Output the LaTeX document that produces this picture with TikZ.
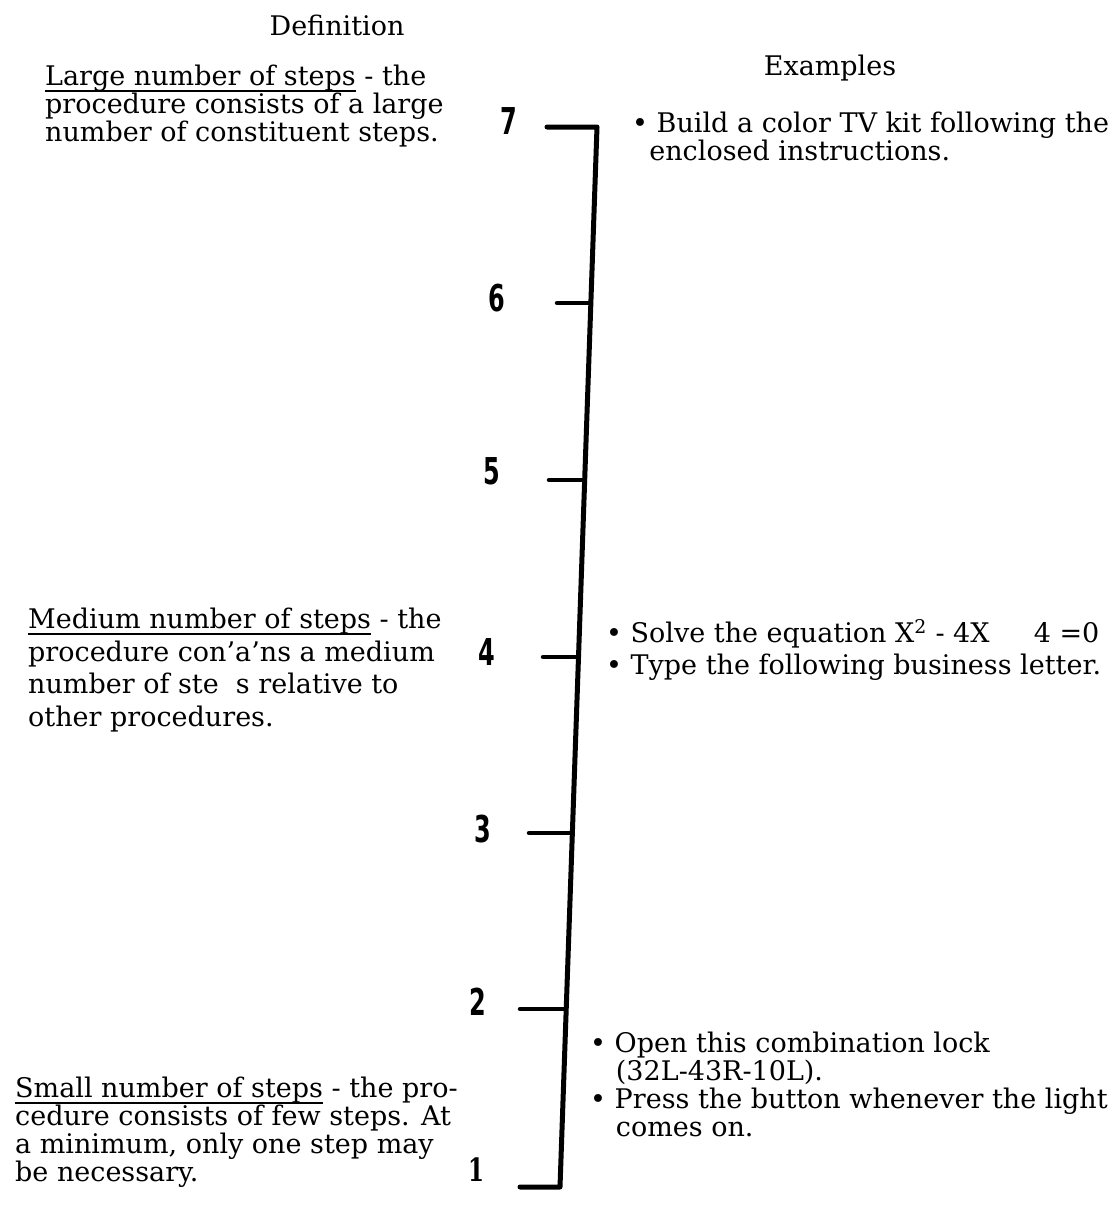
\documentclass[tikz,border=0pt]{standalone}
\usepackage{graphicx}
\usepackage{fontspec}
\setmainfont{DejaVu Serif}
\newfontfamily\numfont{DejaVu Sans Condensed}
\newcommand\bodysize{\fontsize{27}{28}\selectfont}
\newcommand\widesize{\fontsize{27}{32.5}\selectfont}
\newcommand\myul[1]{\leavevmode\setbox0\hbox{#1}\rlap{\smash{\rule[-6pt]{\wd0}{1.8pt}}}\box0\relax}
\newcommand\numtxt[1]{\scalebox{0.72}[1]{#1}}
\begin{document}
\begin{tikzpicture}[x=1pt,y=-1pt,
  body/.style={font=\bodysize, align=left, anchor=north west, inner sep=0pt},
  bodywide/.style={body, font=\widesize},
  head/.style={font=\bodysize, inner sep=0pt},
  num/.style={font=\numfont\bfseries\fontsize{37}{37}\selectfont, inner sep=0pt},
  scaleline/.style={line width=5pt, line cap=round, line join=round},
  tickline/.style={line width=4.5pt, line cap=round}]
\useasboundingbox (0,0) rectangle (1116,1226);

% headings
\node[head] (hdef) at (337,25) {Definition};
\node[head] (hex) at (830,68) {Examples};

% definitions
\node[body] (def7) at (45,65) {\myul{Large number of steps} - the\\procedure consists of a large\\number of constituent steps.};
\node[bodywide] (def4) at (28,608) {\myul{Medium number of steps} - the\\procedure con'a'ns a medium\\number of ste\ \ s relative to\\other procedures.};
\node[body] (def1) at (15,1077) {\myul{Small number of steps} - the pro-\\cedure consists of few steps. At\\a minimum, only one step may\\be necessary.};

% examples
\node[body] (ex7) at (632,112) {• Build a color TV kit following the\\\ \ enclosed instructions.};
\node[bodywide] (ex4) at (606,619) {• Solve the equation X\textsuperscript{2} - 4X\quad\ \ 4 =0\\• Type the following business letter.};
\node[body] (ex1) at (590,1032) {• Open this combination lock\\\ \ \ (32L-43R-10L).\\• Press the button whenever the light\\\ \ \ comes on.};

% scale numbers
\node[num] (n7) at (509,121) {\numtxt{7}};
\node[num] (n6) at (497,298) {\numtxt{6}};
\node[num] (n5) at (492,471) {\numtxt{5}};
\node[num] (n4) at (487,652) {\numtxt{4}};
\node[num] (n3) at (483,829) {\numtxt{3}};
\node[num] (n2) at (478,1002) {\numtxt{2}};
\node[font=\fontsize{32}{32}\selectfont\bfseries, inner sep=0pt] (n1) at (477,1170) {\numtxt{1}};

% scale line coordinates
\coordinate (top) at (597,127);
\coordinate (bot) at (560,1187);
\coordinate (t7) at (547,127);
\coordinate (t1) at (520,1187);
\coordinate (s6) at (590,303);  \coordinate (t6) at (557,303);
\coordinate (s5) at (584,480);  \coordinate (t5) at (549,480);
\coordinate (s4) at (578,657);  \coordinate (t4) at (543,657);
\coordinate (s3) at (571,833);  \coordinate (t3) at (529,833);
\coordinate (s2) at (565,1009); \coordinate (t2) at (520,1009);

\draw[scaleline] (t7) -- (top) -- (bot) -- (t1);
\foreach \k in {6,5,4,3,2} \draw[tickline] (t\k) -- (s\k);
\end{tikzpicture}
\end{document}
